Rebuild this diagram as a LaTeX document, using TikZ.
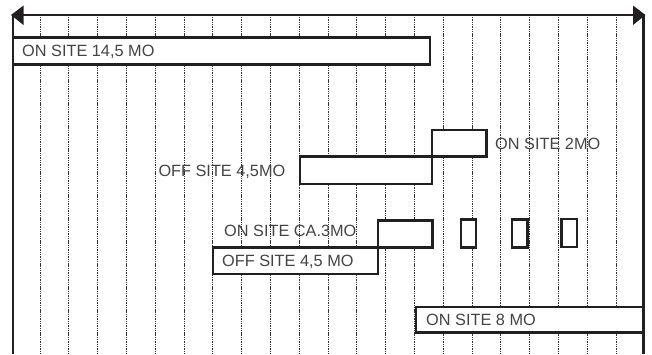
\documentclass[tikz,border=0pt]{standalone}
\usepackage{fontspec}
\setmainfont{Liberation Sans}
\definecolor{ink}{HTML}{231F20}
\definecolor{txt}{HTML}{444444}
\begin{document}
\begin{tikzpicture}[x=1pt,y=-1pt,
  gridline/.style={draw=black!80,line width=0.9pt,dash pattern=on 1.4pt off 0.9pt},
  bar/.style={draw=ink,fill=white,line width=2.4pt,line join=miter},
  frame/.style={draw=ink,line width=2.5pt},
  lbl/.style={inner sep=0pt,anchor=base west,text=txt,font=\fontsize{16.3}{18}\selectfont}]
\useasboundingbox (0,0) rectangle (652,354);
% grid
\foreach \j in {0,...,20}{
  \draw[gridline] ({40+28.8*\j},17) -- ({40+28.8*\j},354);
}
% frame
\coordinate (tl) at (13,15);
\coordinate (tr) at (643.5,15);
\draw[frame] (13,15) -- (13,354);
\draw[frame] (643.5,15) -- (643.5,354);
\draw[ink,line width=2.2pt] (14,15) -- (636,15);
\fill[ink] (11,15) -- (23.5,5.5) -- (23.5,25) -- cycle;
\fill[ink] (645.5,15) -- (633,5.5) -- (633,25) -- cycle;
% bars
\draw[bar] (13,37.3) rectangle (430,64.5);
\draw[bar] (300,156.3) rectangle (431.8,183.7);
\draw[bar] (431.8,129.7) rectangle (486.3,156.3);
\draw[bar] (212.7,247.3) rectangle (377.7,273.7);
\draw[bar] (377.7,220.3) rectangle (432.3,247.3);
\draw[bar] (461,219.3) rectangle (476,247.3);
\draw[bar] (512,219.3) rectangle (527.3,247.3);
\draw[bar] (561.3,219) rectangle (577,246.7);
\draw[bar] (416,307) rectangle (643.5,332.3);
% labels
\node[lbl] (l1) at (22,56.7) {ON SITE 14,5 MO};
\node[lbl] (l2) at (495,149.5) {ON SITE 2MO};
\node[lbl] (l3) at (158.3,176.7) {OFF SITE 4,5MO};
\node[lbl] (l4) at (224,236.5) {ON SITE CA.3MO};
\node[lbl] (l5) at (222,266.5) {OFF SITE 4,5 MO};
\node[lbl] (l6) at (426,325.5) {ON SITE 8 MO};
\end{tikzpicture}
\end{document}
